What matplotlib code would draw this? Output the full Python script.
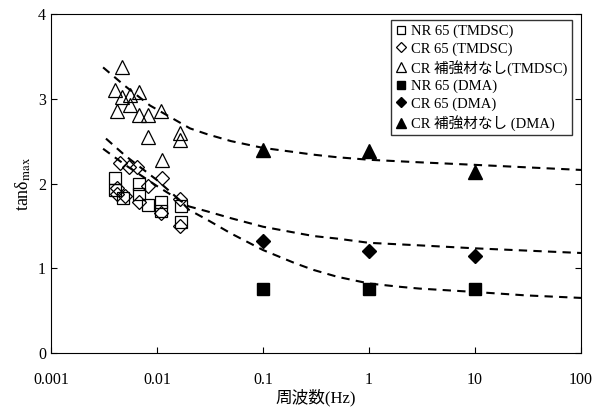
import numpy as np
import matplotlib
matplotlib.use("Agg")
import matplotlib.pyplot as plt

plt.rcParams["font.family"] = ["Liberation Serif", "Noto Sans CJK JP"]
plt.rcParams["mathtext.fontset"] = "stix"

# ── TMDSC scatter data ──────────────────────────────────────────────────────
nr_tm_f = [0.0040, 0.0040, 0.0048, 0.0067, 0.0067, 0.0083, 0.0110, 0.0110, 0.0168, 0.0168]
nr_tm_y = [2.07, 1.92, 1.83, 2.00, 1.88, 1.75, 1.78, 1.67, 1.73, 1.55]

cr_tm_f = [0.0042, 0.0045, 0.0054, 0.0065, 0.0042, 0.0050, 0.0068, 0.0083, 0.0112, 0.0108, 0.0165, 0.0165]
cr_tm_y = [1.95, 2.24, 2.20, 2.20, 1.88, 1.85, 1.78, 1.97, 2.07, 1.65, 1.82, 1.50]

cn_tm_f = [0.00465, 0.0040, 0.00465, 0.0056, 0.0067, 0.0056, 0.0042, 0.0067, 0.0083,
           0.0109, 0.0165, 0.0165, 0.0083, 0.0111]
cn_tm_y = [3.38, 3.10, 3.02, 3.04, 3.08, 2.93, 2.85, 2.81, 2.81, 2.85, 2.60, 2.51, 2.55, 2.28]

# ── DMA data ────────────────────────────────────────────────────────────────
dma_f = [0.1, 1, 10]
nr_dma_y = [0.75, 0.75, 0.76]
cr_dma_y = [1.32, 1.20, 1.14]
cn_dma_y = [2.40, 2.38, 2.13]

# ── dashed fit curves ───────────────────────────────────────────────────────
nr_fit_f = [0.0033, 0.005, 0.01, 0.0165, 0.02, 0.03, 0.05, 0.1, 0.2, 0.3, 0.5, 1, 2, 3, 10, 30, 100]
nr_fit_y = [2.53, 2.33, 2.04, 1.80, 1.69, 1.57, 1.41, 1.215, 1.06, 0.98, 0.90, 0.82, 0.78, 0.76,
            0.72, 0.68, 0.65]

cr_fit_f = [0.0031, 0.005, 0.01, 0.0165, 0.02, 0.03, 0.05, 0.1, 0.2, 0.3, 0.5, 1, 3, 10, 100]
cr_fit_y = [2.41, 2.22, 1.97, 1.80, 1.73, 1.67, 1.59, 1.49, 1.42, 1.38, 1.35, 1.30, 1.27,
            1.235, 1.18]

cn_fit_f = [0.0031, 0.005, 0.0086, 0.0205, 0.03, 0.05, 0.1, 0.2, 0.3, 0.5, 1, 3, 10, 100]
cn_fit_y = [3.37, 3.15, 2.92, 2.65, 2.58, 2.50, 2.42, 2.37, 2.34, 2.31, 2.28, 2.25, 2.22, 2.16]

xticks = [0.001, 0.01, 0.1, 1, 10, 100]
xtick_labels = ["0.001", "0.01", "0.1", "1", "10", "100"]
yticks = [0, 1, 2, 3, 4]

fig = plt.figure(figsize=(6.03, 4.07), dpi=100)
ax = fig.add_axes([51 / 603, 1 - 353 / 407, 530 / 603, 339 / 407])

dash = dict(color="black", lw=1.5, ls=(0, (4, 3)))
ax.plot(nr_fit_f, nr_fit_y, **dash)
ax.plot(cr_fit_f, cr_fit_y, **dash)
ax.plot(cn_fit_f, cn_fit_y, **dash)

ms = 9
ax.plot(nr_tm_f, nr_tm_y, "s", ls="none", ms=ms, mfc="none", mec="black", mew=0.9,
        label="NR 65 (TMDSC)")
ax.plot(cr_tm_f, cr_tm_y, "D", ls="none", ms=ms * 0.8, mfc="none", mec="black", mew=0.9,
        label="CR 65 (TMDSC)")
ax.plot(cn_tm_f, cn_tm_y, "^", ls="none", ms=ms + 1, mfc="none", mec="black", mew=0.9,
        label="CR 補強材なし(TMDSC)")
ax.plot(dma_f, nr_dma_y, "s", ls="none", ms=ms, color="black", label="NR 65 (DMA)")
ax.plot(dma_f, cr_dma_y, "D", ls="none", ms=ms * 0.8, color="black", label="CR 65 (DMA)")
ax.plot(dma_f, cn_dma_y, "^", ls="none", ms=ms + 1, color="black", label="CR 補強材なし (DMA)")

ax.set_xscale("log")
ax.set_xlim(0.001, 100)
ax.set_ylim(0, 4)
ax.set_xticks(xticks)
ax.set_xticklabels(xtick_labels)
ax.xaxis.set_minor_locator(matplotlib.ticker.NullLocator())
ax.set_yticks(yticks)
ax.tick_params(direction="in", labelsize=11.5, right=True, length=4)
ax.tick_params(axis="x", pad=14)

ax.set_xlabel("周波数(Hz)", fontsize=12, labelpad=0)
ax.set_ylabel("tanδ$_{\\mathrm{max}}$", fontsize=13, labelpad=4)

leg = ax.legend(loc="upper right", bbox_to_anchor=(0.983, 0.982), borderaxespad=0,
                fontsize=10.5, frameon=True, fancybox=False, edgecolor="black",
                handlelength=0.8, handletextpad=0.3, labelspacing=0.28,
                borderpad=0.3, markerscale=0.7)
leg.get_frame().set_linewidth(1.0)

fig.savefig("out.png", dpi=100)
